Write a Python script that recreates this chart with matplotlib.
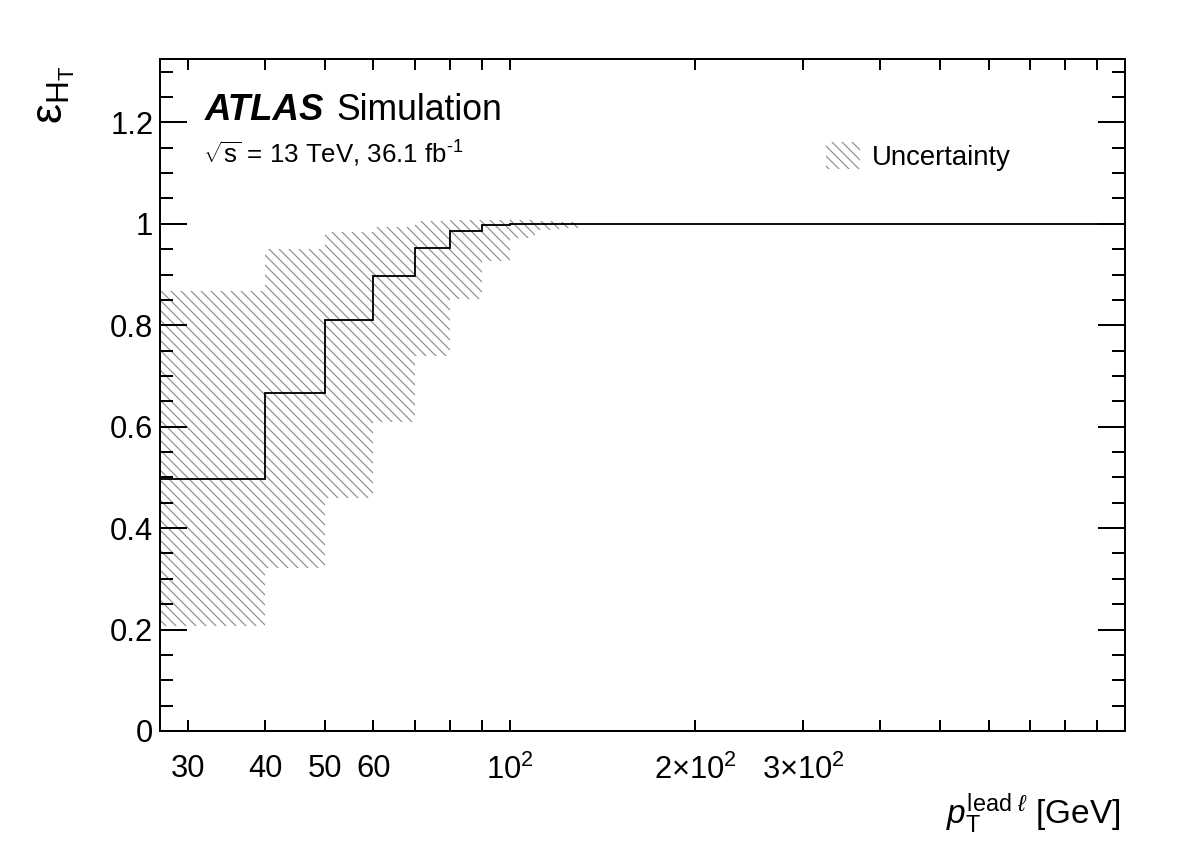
import matplotlib
matplotlib.use("Agg")
import matplotlib.pyplot as plt
from matplotlib.patches import Patch
from matplotlib.ticker import FixedLocator, NullFormatter

# bin edges in leading-lepton pT [GeV]
edges = [27, 40, 50, 60, 70, 80, 90, 100, 110, 120, 130, 1000]
# HT efficiency per bin
eff = [0.496, 0.666, 0.810, 0.897, 0.953, 0.986, 0.998, 1.0, 1.0, 1.0, 1.0]
# uncertainty band (upper / lower edge)
band_hi = [0.868, 0.950, 0.984, 0.994, 1.005, 1.008, 1.008, 1.008, 1.006, 1.004, 1.0]
band_lo = [0.207, 0.321, 0.459, 0.609, 0.740, 0.852, 0.927, 0.972, 0.988, 0.992, 1.0]

xticks = [30, 40, 50, 60, 100, 200, 300]
xticklabels = ["30", "40", "50", "60", r"$10^{2}$", r"$2{\times}10^{2}$", r"$3{\times}10^{2}$"]
xminor = [70, 80, 90, 400, 500, 600, 700, 800, 900]
yticks = [0, 0.2, 0.4, 0.6, 0.8, 1.0, 1.2]
yticklabels = ["0", "0.2", "0.4", "0.6", "0.8", "1", "1.2"]

plt.rcParams["font.family"] = ["Liberation Sans", "DejaVu Sans"]
plt.rcParams["mathtext.fontset"] = "custom"
plt.rcParams["mathtext.rm"] = "Liberation Sans"
plt.rcParams["mathtext.it"] = "Liberation Sans:italic"
plt.rcParams["mathtext.bf"] = "Liberation Sans:bold"
plt.rcParams["hatch.linewidth"] = 0.7

DPI = 120
W, H = 1182, 853
fig = plt.figure(figsize=(W / DPI, H / DPI), dpi=DPI)
ax = fig.add_axes([160 / W, 1 - 731 / H, (1125 - 160) / W, (731 - 59) / H])

hatch_col = "#8c8c8c"
hatch = chr(92) * 4   # backslashes -> dense "\\" hatch
ax.stairs(band_hi, edges, baseline=band_lo, fill=True, facecolor="none",
          edgecolor=hatch_col, hatch=hatch, linewidth=0)
ax.stairs(eff, edges, baseline=None, color="black", linewidth=1.1)

ax.set_xscale("log")
ax.set_xlim(27, 1000)
ax.set_ylim(0, 1.325)

ax.xaxis.set_major_locator(FixedLocator(xticks))
ax.set_xticklabels(xticklabels)
ax.xaxis.set_minor_locator(FixedLocator(xminor))
ax.xaxis.set_minor_formatter(NullFormatter())
ax.set_yticks(yticks)
ax.set_yticklabels(yticklabels)
ax.yaxis.set_minor_locator(FixedLocator([i * 0.05 for i in range(27)]))

ax.tick_params(axis="both", which="both", direction="in", top=True, right=True,
               width=1.2, labelsize=18.5)
ax.tick_params(axis="x", which="both", length=6.5, pad=14)
ax.tick_params(axis="y", which="major", length=16, pad=4)
ax.tick_params(axis="y", which="minor", length=8)
for s in ax.spines.values():
    s.set_linewidth(1.2)

ax.set_xlabel(r"$p_{\mathrm{T}}^{\mathrm{lead}\ \ell}$ [GeV]", fontsize=20, loc="right")
ax.xaxis.set_label_coords(0.995, -0.09)
ax.set_ylabel(r"ε$_{\mathrm{H}_{\mathrm{T}}}$", fontsize=27, loc="top")
ax.yaxis.set_label_coords(-0.086, 0.99)

fig.text(205 / W, 1 - 120 / H, "ATLAS", fontsize=22, fontweight="bold", style="italic")
fig.text(336 / W, 1 - 120 / H, "Simulation", fontsize=21.3)
fig.text(203 / W, 1 - 163 / H, r"$\sqrt{\mathrm{s}}$ = 13 TeV, 36.1 fb$^{\mathrm{‐1}}$", fontsize=15.5)

handle = Patch(facecolor="none", edgecolor=hatch_col, hatch=hatch, linewidth=0)
ax.legend(handles=[handle], labels=["Uncertainty"], loc="upper left",
          bbox_to_anchor=(826 / W, 1 - 142 / H), bbox_transform=fig.transFigure,
          frameon=False, fontsize=16.5, borderpad=0, borderaxespad=0,
          handlelength=1.24, handleheight=1.16, handletextpad=0.44)

fig.savefig("out.png", dpi=DPI)
